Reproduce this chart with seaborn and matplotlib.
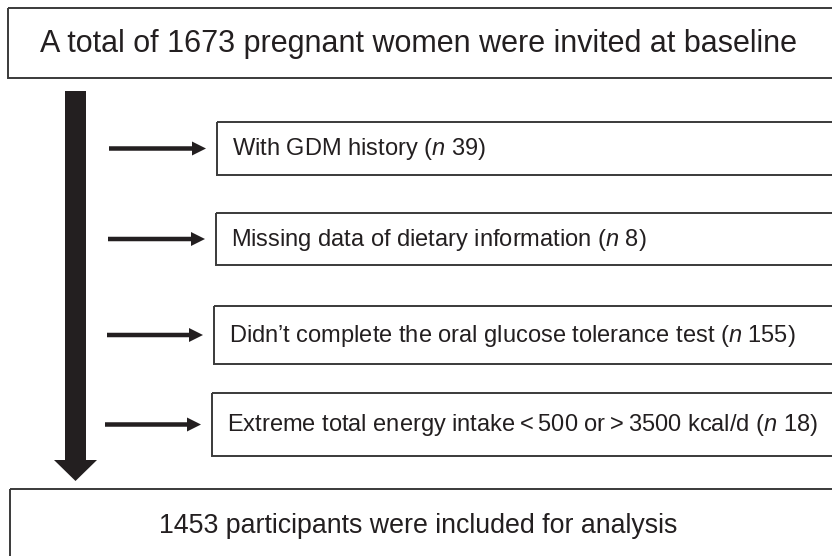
import matplotlib
matplotlib.use("Agg")
import matplotlib.pyplot as plt
import seaborn as sns
from matplotlib.patches import Rectangle, FancyArrow

# flowchart content
start_text = "A total of 1673 pregnant women were invited at baseline"
end_text = "1453 participants were included for analysis"
excl_reasons = [
    "With GDM history",
    "Missing data of dietary information",
    "Didn\u2019t complete the oral glucose tolerance test",
    "Extreme total energy intake\u2009<\u2009500 or\u2009>\u20093500 kcal/d",
]
excl_n = [39, 8, 155, 18]

sns.set_theme(style="white")
plt.rcParams["font.family"] = ["Liberation Sans", "DejaVu Sans"]
plt.rcParams["mathtext.fontset"] = "custom"
plt.rcParams["mathtext.rm"] = "Liberation Sans"
plt.rcParams["mathtext.it"] = "Liberation Sans:italic"

edge = "#3a3a3a"
dark = "#231f20"

fig = plt.figure(figsize=(8.32, 5.56), dpi=100)
ax = fig.add_axes([0, 0, 1, 1])
ax.set_xlim(0, 832)
ax.set_ylim(556, 0)
ax.axis("off")

# top box
ax.add_patch(Rectangle((8, 8), 840, 70, fill=False, ec=edge, lw=1.4))
ax.text(418, 44, start_text, ha="center", va="center", fontsize=22, color=dark)

# main downward arrow
ax.add_patch(FancyArrow(75.5, 91, 0, 390, width=21, head_width=43, head_length=21,
                        length_includes_head=True, color=dark, lw=0))

# exclusion boxes and side arrows
box_y = [(122, 175), (213, 265), (306, 364), (393, 456)]
box_x = [217, 216, 214, 212]
arrow_start = [109, 108, 107, 105]
for i, (reason, n) in enumerate(zip(excl_reasons, excl_n)):
    y0, y1 = box_y[i]
    x0 = box_x[i]
    ym = (y0 + y1) / 2
    ax.add_patch(Rectangle((x0, y0), 840, y1 - y0, fill=False, ec=edge, lw=1.4))
    ax.add_patch(FancyArrow(arrow_start[i], ym, (x0 - 11) - arrow_start[i], 0, width=4.5,
                            head_width=14, head_length=14, length_includes_head=True,
                            color=dark, lw=0))
    label = f"{reason} ($\\mathit{{n}}$ {n})"
    ax.text(x0 + 15, ym + 1, label, ha="left", va="center", fontsize=17, color=dark)

# bottom box
ax.add_patch(Rectangle((10, 489), 840, 100, fill=False, ec=edge, lw=1.4))
ax.text(418, 526, end_text, ha="center", va="center", fontsize=19.3, color=dark)

fig.savefig("out.png", dpi=100)
